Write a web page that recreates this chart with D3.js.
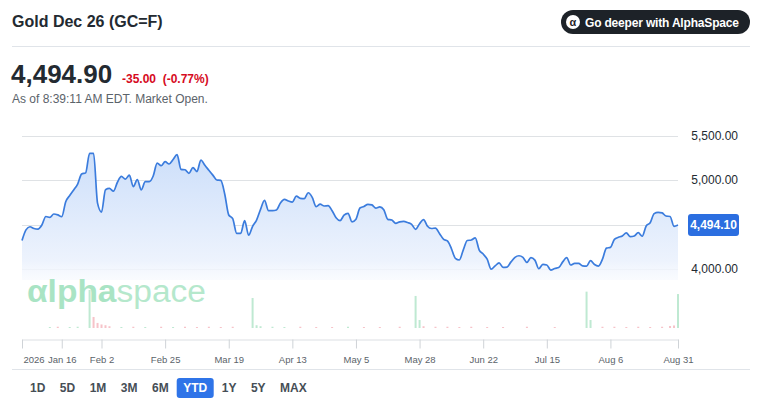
<!DOCTYPE html>
<html lang="en">
<head>
  <meta charset="utf-8">
  <title>Gold Dec 26 (GC=F)</title>
  <script src="https://d3js.org/d3.v7.min.js"></script>
  <style>
    body { margin: 0; background: #fff; }
    svg { display: block; font-family: "Liberation Sans", Arial, Helvetica, sans-serif; }
  </style>
</head>
<body>
<div id="chart"></div>
<script>
// closing price per trading day, Jan 2 .. Aug 31 2026
var price = [
  4320, 4440, 4475, 4455, 4448, 4494, 4590, 4580, 4618, 4608,
  4588, 4756, 4825, 4888, 4955, 5067, 5080, 5300, 5300, 4740,
  4640, 4890, 4905, 4875, 4975, 5040, 5010, 5055, 4925, 5005,
  4890, 4981, 4981, 5045, 5190, 5160, 5206, 5180, 5230, 5285,
  5120, 5115, 5075, 5140, 5095, 5225, 5165, 5110, 5055, 5000,
  4995, 4840, 4607, 4565, 4401, 4400, 4543, 4380, 4480, 4550,
  4670, 4770, 4655, 4655, 4663, 4742, 4783, 4764, 4752, 4818,
  4794, 4790, 4857, 4805, 4700, 4728, 4708, 4711, 4655, 4575,
  4543, 4605, 4626, 4530, 4560, 4685, 4702, 4727, 4720, 4685,
  4698, 4665, 4558, 4550, 4513, 4530, 4535, 4522, 4502, 4446,
  4508, 4555, 4480, 4455, 4460, 4400, 4335, 4315, 4230, 4120,
  4101, 4215, 4320, 4326, 4350, 4213, 4168, 4110, 3998, 4035,
  4068, 4018, 4022, 4080, 4131, 4149, 4130, 4075, 4127, 4100,
  4003, 4052, 4045, 3988, 4006, 4016, 4080, 4128, 4045, 4063,
  4063, 4035, 4033, 4095, 4050, 4033, 4110, 4235, 4243, 4333,
  4356, 4371, 4406, 4363, 4371, 4408, 4368, 4483, 4520, 4622,
  4637, 4630, 4595, 4590, 4480, 4494
];

var tickDays = [0, 10, 20, 36, 52, 68, 84, 100, 116, 132, 148, 165];
var tickLabels = ["2026", "Jan 16", "Feb 2", "Feb 25", "Mar 19", "Apr 13", "May 5",
  "May 28", "Jun 22", "Jul 15", "Aug 6", "Aug 31"];

var priceTicks = [4000, 4500, 5000, 5500];
var lastPrice = 4494.10;

// volume bars (thousands of contracts), by trading day
var volDay = [7, 9, 12, 14, 17, 18, 19, 20, 21, 22, 25, 28, 31, 35, 38, 41, 44, 47, 50, 53,
  58, 59, 60, 63, 66, 70, 74, 78, 82, 86, 90, 95, 99, 100, 101, 104, 107, 110, 113, 117,
  121, 127, 134, 142, 143, 146, 149, 152, 155, 158, 161, 163, 164, 165];
var volAmt = [8, 10, 8, 10, 300, 87, 40, 28, 22, 14, 8, 10, 8, 10, 8, 10, 8, 10, 8, 10,
  237, 22, 14, 10, 8, 10, 8, 8, 10, 8, 8, 10, 253, 63, 14, 10, 10, 8, 10, 8,
  8, 10, 8, 287, 63, 10, 10, 8, 10, 8, 10, 16, 20, 268];
var volSide = ["g", "r", "g", "g", "g", "r", "r", "r", "r", "r", "g", "r", "g", "r", "g", "r", "r", "r", "r", "r",
  "g", "g", "g", "g", "g", "r", "r", "r", "g", "r", "r", "r", "g", "g", "r", "r", "r", "r", "r", "r",
  "r", "r", "r", "g", "g", "r", "r", "r", "r", "r", "r", "r", "r", "g"];

var ranges = ["1D", "5D", "1M", "3M", "6M", "YTD", "1Y", "5Y", "MAX"];
var activeRange = "YTD";

var W = 761, H = 410;
var svg = d3.select("#chart").append("svg")
  .attr("width", W)
  .attr("height", H);

var dark = "#232a31";

// ---- header
svg.append("text")
  .attr("x", 12).attr("y", 27)
  .attr("font-size", 16).attr("font-weight", "bold")
  .attr("fill", dark)
  .text("Gold Dec 26 (GC=F)");

var pill = svg.append("g");
pill.append("rect")
  .attr("x", 561).attr("y", 10)
  .attr("width", 189).attr("height", 24)
  .attr("rx", 12)
  .attr("fill", "#1d2228");
pill.append("circle")
  .attr("cx", 573).attr("cy", 22).attr("r", 7)
  .attr("fill", "#fff");
pill.append("text")
  .attr("x", 573).attr("y", 25.5)
  .attr("text-anchor", "middle")
  .attr("font-size", 11).attr("font-weight", "bold")
  .attr("fill", "#1d2228")
  .text("α");
pill.append("text")
  .attr("x", 585).attr("y", 26.5)
  .attr("font-size", 12).attr("font-weight", "bold")
  .attr("fill", "#fff")
  .attr("textLength", 154)
  .text("Go deeper with AlphaSpace");

svg.append("line")
  .attr("x1", 12).attr("x2", 750)
  .attr("y1", 46.5).attr("y2", 46.5)
  .attr("stroke", "#e0e4e9");

svg.append("text")
  .attr("x", 11).attr("y", 83)
  .attr("font-size", 26).attr("font-weight", "bold")
  .attr("fill", dark)
  .text("4,494.90");

svg.append("text")
  .attr("x", 122).attr("y", 83)
  .attr("font-size", 12).attr("font-weight", "bold")
  .attr("fill", "#d60a22")
  .attr("xml:space", "preserve")
  .text("-35.00  (-0.77%)");

svg.append("text")
  .attr("x", 12).attr("y", 103)
  .attr("font-size", 12)
  .attr("fill", "#5b636a")
  .text("As of 8:39:11 AM EDT. Market Open.");

// ---- scales
var x = d3.scaleLinear().domain([0, price.length - 1]).range([22, 678]);
var y = d3.scaleLinear().domain([4000, 5500]).range([269, 135.5]);
var vy = d3.scaleLinear().domain([0, 300]).range([328, 290]);
var plotBottom = 280;

// gridlines
svg.append("g")
  .selectAll("line")
  .data(priceTicks)
  .join("line")
  .attr("x1", 22).attr("x2", 678)
  .attr("y1", d => Math.round(y(d)) + 0.5)
  .attr("y2", d => Math.round(y(d)) + 0.5)
  .attr("stroke", "#dfe2e5");

// area + line
var defs = svg.append("defs");
var grad = defs.append("linearGradient")
  .attr("id", "fillGrad")
  .attr("gradientUnits", "userSpaceOnUse")
  .attr("x1", 0).attr("x2", 0)
  .attr("y1", y(5300)).attr("y2", plotBottom);
grad.append("stop").attr("offset", 0).attr("stop-color", "#cddffa").attr("stop-opacity", 1);
grad.append("stop").attr("offset", 0.85).attr("stop-color", "#edf3fd").attr("stop-opacity", 1);
grad.append("stop").attr("offset", 1).attr("stop-color", "#f6f9fe").attr("stop-opacity", 0.6);

var area = d3.area()
  .x((d, i) => x(i))
  .y0(plotBottom)
  .y1(d => y(d))
  .curve(d3.curveMonotoneX);

var line = d3.line()
  .x((d, i) => x(i))
  .y(d => y(d))
  .curve(d3.curveMonotoneX);

svg.append("path")
  .datum(price)
  .attr("d", area)
  .attr("fill", "url(#fillGrad)");

// watermark
var wm = svg.append("text")
  .attr("x", 27).attr("y", 302)
  .attr("font-size", 31)
  .attr("textLength", 179)
  .attr("lengthAdjust", "spacingAndGlyphs");
wm.append("tspan").attr("font-weight", "bold").attr("fill", "#a9e4c4").text("αlpha");
wm.append("tspan").attr("fill", "#b5e8cc").text("space");

svg.append("path")
  .datum(price)
  .attr("d", line)
  .attr("fill", "none")
  .attr("stroke", "#3b7cdd")
  .attr("stroke-width", 1.7)
  .attr("stroke-linejoin", "round");

// volume
svg.append("g")
  .selectAll("rect")
  .data(volDay)
  .join("rect")
  .attr("x", d => x(d) - 1)
  .attr("width", 2)
  .attr("y", (d, i) => vy(volAmt[i]))
  .attr("height", (d, i) => vy(0) - vy(volAmt[i]))
  .attr("fill", (d, i) => volSide[i] === "g" ? "#bfe9d2" : "#f6c3c9");

// y labels
svg.append("g")
  .selectAll("text")
  .data(priceTicks)
  .join("text")
  .attr("x", 738)
  .attr("y", d => y(d) + 4)
  .attr("text-anchor", "end")
  .attr("font-size", 12)
  .attr("fill", dark)
  .text(d => d3.format(",.2f")(d));

// last price badge
var by = y(lastPrice);
svg.append("rect")
  .attr("x", 688).attr("y", by - 11)
  .attr("width", 51).attr("height", 22)
  .attr("rx", 3)
  .attr("fill", "#2b6ee0");
svg.append("text")
  .attr("x", 713.5).attr("y", by + 4)
  .attr("text-anchor", "middle")
  .attr("font-size", 12).attr("font-weight", "bold")
  .attr("fill", "#fff")
  .text(d3.format(",.2f")(lastPrice));

// x axis
var xAxis = d3.axisBottom(x)
  .tickValues(tickDays)
  .tickFormat((d, i) => tickLabels[i])
  .tickSize(9)
  .tickSizeOuter(0)
  .tickPadding(8);

var gx = svg.append("g")
  .attr("transform", "translate(0,339.5)")
  .call(xAxis);
gx.select(".domain").attr("stroke", "#dcdfe3");
gx.selectAll(".tick line").attr("stroke", "#cfd3d7");
gx.selectAll(".tick text")
  .attr("font-family", "\"Liberation Sans\", Arial, sans-serif")
  .attr("font-size", 9.5)
  .attr("fill", "#5b636a");
gx.select(".tick text").attr("text-anchor", "start").attr("dx", 1);

svg.append("line")
  .attr("x1", 12).attr("x2", 750)
  .attr("y1", 369.5).attr("y2", 369.5)
  .attr("stroke", "#e0e4e9");

// range buttons
var bx = 30;
var rg = svg.append("g");
ranges.forEach(function (r) {
  var t = rg.append("text")
    .attr("x", bx).attr("y", 392)
    .attr("font-size", 12).attr("font-weight", "bold")
    .attr("fill", r === activeRange ? "#fff" : "#464e56")
    .text(r);
  var w = t.node().getComputedTextLength();
  if (r === activeRange) {
    rg.insert("rect", "text")
      .attr("x", bx - 6.5).attr("y", 378)
      .attr("width", w + 13).attr("height", 20)
      .attr("rx", 3)
      .attr("fill", "#2f74e8");
  }
  bx += w + 14.5;
});
</script>
</body>
</html>
